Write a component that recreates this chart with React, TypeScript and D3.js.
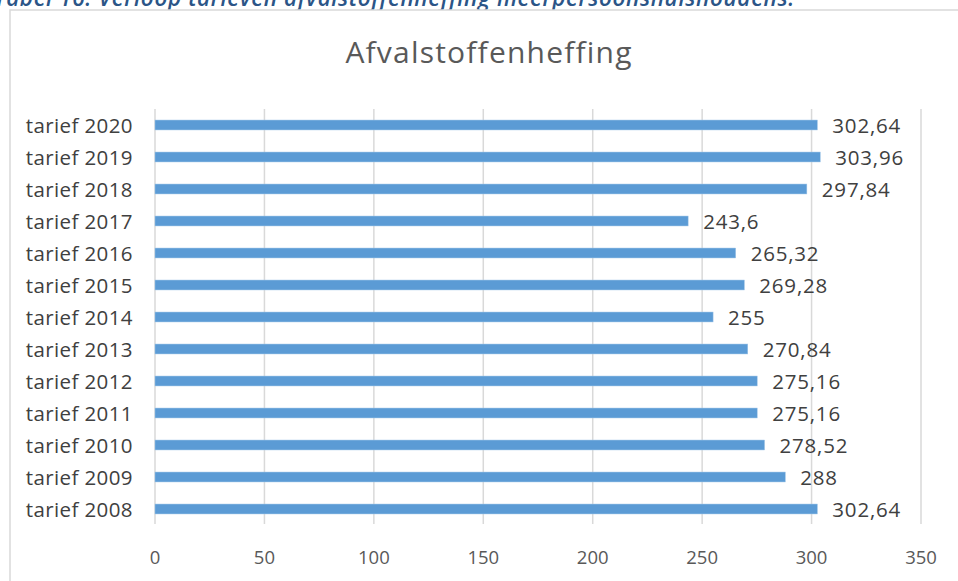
import React from 'react';
import { scaleLinear, scaleBand, formatLocale } from 'd3';

const categories = [
  'tarief 2020', 'tarief 2019', 'tarief 2018', 'tarief 2017', 'tarief 2016',
  'tarief 2015', 'tarief 2014', 'tarief 2013', 'tarief 2012', 'tarief 2011',
  'tarief 2010', 'tarief 2009', 'tarief 2008',
];
const values = [302.64, 303.96, 297.84, 243.6, 265.32, 269.28, 255, 270.84, 275.16, 275.16, 278.52, 288, 302.64];
const ticks = [0, 50, 100, 150, 200, 250, 300, 350];

const title = 'Afvalstoffenheffing';
const caption = 'Tabel 16: Verloop tarieven afvalstoffenheffing meerpersoonshuishoudens.';

const nl = formatLocale({ decimal: ',', thousands: '.', grouping: [3], currency: ['€', ''] });
const fmt = nl.format('~f');

const W = 958;
const H = 581;
const font = "'Open Sans', 'Segoe UI', sans-serif";

const App = () => {
  const xScale = scaleLinear().domain([0, 350]).range([155, 921]);
  const yScale = scaleBand<string>()
    .domain(categories)
    .range([109, 525])
    .paddingInner(0.69)
    .paddingOuter(0.345);

  const data = categories.map((c, i) => ({ cat: c, value: values[i] }));

  return (
    <div style={{ position: 'absolute', left: 0, top: 0 }}>
      <svg width={W} height={H} viewBox={`0 0 ${W} ${H}`} style={{ display: 'block', background: '#fff' }}>
        <text x={-6} y={5.5} fontFamily={font} fontStyle="italic" fontWeight={600} fontSize={22.5} letterSpacing={0.6} fill="#2B5587">{caption}</text>
        <rect x={10} y={10} width={W + 10} height={H + 10} fill="#fff" stroke="#D9D9D9" strokeWidth={1.5} />

        <text x={489} y={63} textAnchor="middle" fontFamily={font} fontSize={30} letterSpacing={1.2} fill="#595959">{title}</text>

        {ticks.map(t => (
          <g key={t}>
            <line x1={xScale(t)} x2={xScale(t)} y1={109} y2={524} stroke="#D9D9D9" strokeWidth={1.5} />
            <text x={xScale(t)} y={563.5} textAnchor="middle" fontFamily={font} fontSize={18.5} fill="#595959">{t}</text>
          </g>
        ))}

        {data.map(d => {
          const y = yScale(d.cat) ?? 0;
          const bw = yScale.bandwidth();
          return (
            <g key={d.cat}>
              <rect x={xScale(0)} y={y} width={xScale(d.value) - xScale(0)} height={bw}
                fill="#5B9BD5" stroke="#9DC3E6" strokeWidth={0.5} />
              <text x={133} y={y + bw / 2 + 7.5} textAnchor="end" fontFamily={font} fontSize={20.5} letterSpacing={0.4} fill="#404040">{d.cat}</text>
              <text x={xScale(d.value) + 15} y={y + bw / 2 + 7.5} fontFamily={font} fontSize={20.5} letterSpacing={0.8} fill="#404040">{fmt(d.value)}</text>
            </g>
          );
        })}
      </svg>
    </div>
  );
};

export default App;
